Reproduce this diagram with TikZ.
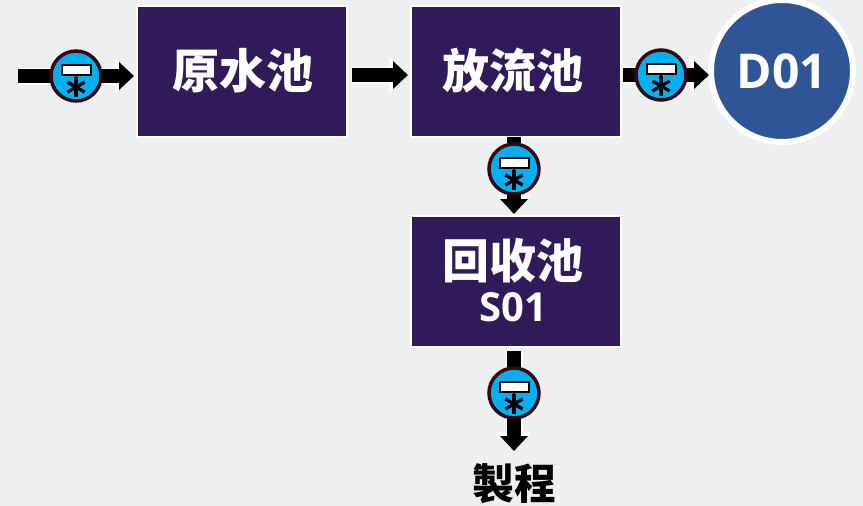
\documentclass[tikz,border=0pt]{standalone}
\usepackage{fontspec}
\setmainfont{Open Sans}
\newfontfamily\cjk{Noto Sans CJK TC}
\usetikzlibrary{arrows.meta}

\definecolor{bgcolor}{HTML}{EDEFF1}
\definecolor{tankcolor}{HTML}{311A59}
\definecolor{outcolor}{HTML}{2F5597}
\definecolor{metercolor}{HTML}{00B0F0}
\definecolor{meterring}{HTML}{330A0F}

\tikzset{
tankbox/.style={draw=white, line width=2pt, fill=tankcolor, text=white, minimum width=210pt, minimum height=131pt, inner sep=0pt, align=center},
pipeout/.style={draw=white, line width=17pt, -{Triangle[length=19pt, width=34pt]}},
pipein/.style={draw=black, line width=13.5pt, -{Triangle[length=15pt, width=27pt]}},
meter/.style={circle, draw=meterring, line width=3.5pt, fill=metercolor, minimum size=50pt, inner sep=0pt},
}

% one meter with its display and its star
\newcommand{\flowmeter}[2]{
\node[meter](#1) at(#2) {};
\draw[black, line width=2pt] ([yshift=6pt]#1.center) -- ([yshift=-11pt]#1.center);
\node[draw=black, fill=white, line width=2pt, minimum width=29pt, minimum height=10pt, inner sep=0pt](#1d) at([yshift=6pt]#1.center) {};
\foreach \a in {30,90,150}{
\draw[black, line width=3.2pt] ([shift={(\a:10pt)},yshift=-11pt]#1.center) -- ([shift={(\a+180:10pt)},yshift=-11pt]#1.center);
}
}

% a pipe, white edge first
\newcommand{\pipe}[2]{
\draw[pipeout] (#1) -- (#2);
\draw[pipein] (#1) -- (#2);
}

\begin{document}
\begin{tikzpicture}[x=1pt, y=-1pt]
\fill[bgcolor] (0,0) rectangle (863,506);
\useasboundingbox (0,0) rectangle (863,506);

\node[tankbox](raw) at(242,71.5) {\raisebox{6pt}{\hspace*{2pt}\fontsize{47}{50}\selectfont\cjk\bfseries 原水池}};
\node[tankbox](fin) at(516,71) {\raisebox{6pt}{\hspace*{-6pt}\fontsize{47}{50}\selectfont\cjk\bfseries 放流池}};
\node[tankbox](rec) at(516,281) {\raisebox{2pt}{\hspace*{-6pt}\fontsize{47}{47}\selectfont\cjk\bfseries 回收池}\\[8pt]\raisebox{2pt}{\hspace*{-6pt}\fontsize{40}{40}\selectfont\bfseries S01}};
\node[circle, draw=white, line width=6pt, fill=outcolor, text=white, minimum size=142pt, inner sep=0pt](out) at(782,71) {\fontsize{48}{48}\selectfont\bfseries D01};
\node[inner sep=0pt](prod) at(514,484) {\fontsize{42}{42}\selectfont\cjk\bfseries 製程};

\coordinate(in) at(18,76);
\coordinate(rawin) at(134,76);
\coordinate(rawout) at(352,75);
\coordinate(finin) at(408,75);
\coordinate(finout) at(623,75);
\coordinate(outin) at(709,75);
\coordinate(findown) at(514,137);
\coordinate(recin) at(514,214);
\coordinate(recout) at(514,351);
\coordinate(prodin) at(514,451);

\pipe{in}{rawin}
\pipe{rawout}{finin}
\pipe{finout}{outin}
\pipe{findown}{recin}
\pipe{recout}{prodin}

\flowmeter{ma}{76,76}
\flowmeter{mb}{661,75}
\flowmeter{mc}{514,169}
\flowmeter{md}{514,393}

\end{tikzpicture}
\end{document}
